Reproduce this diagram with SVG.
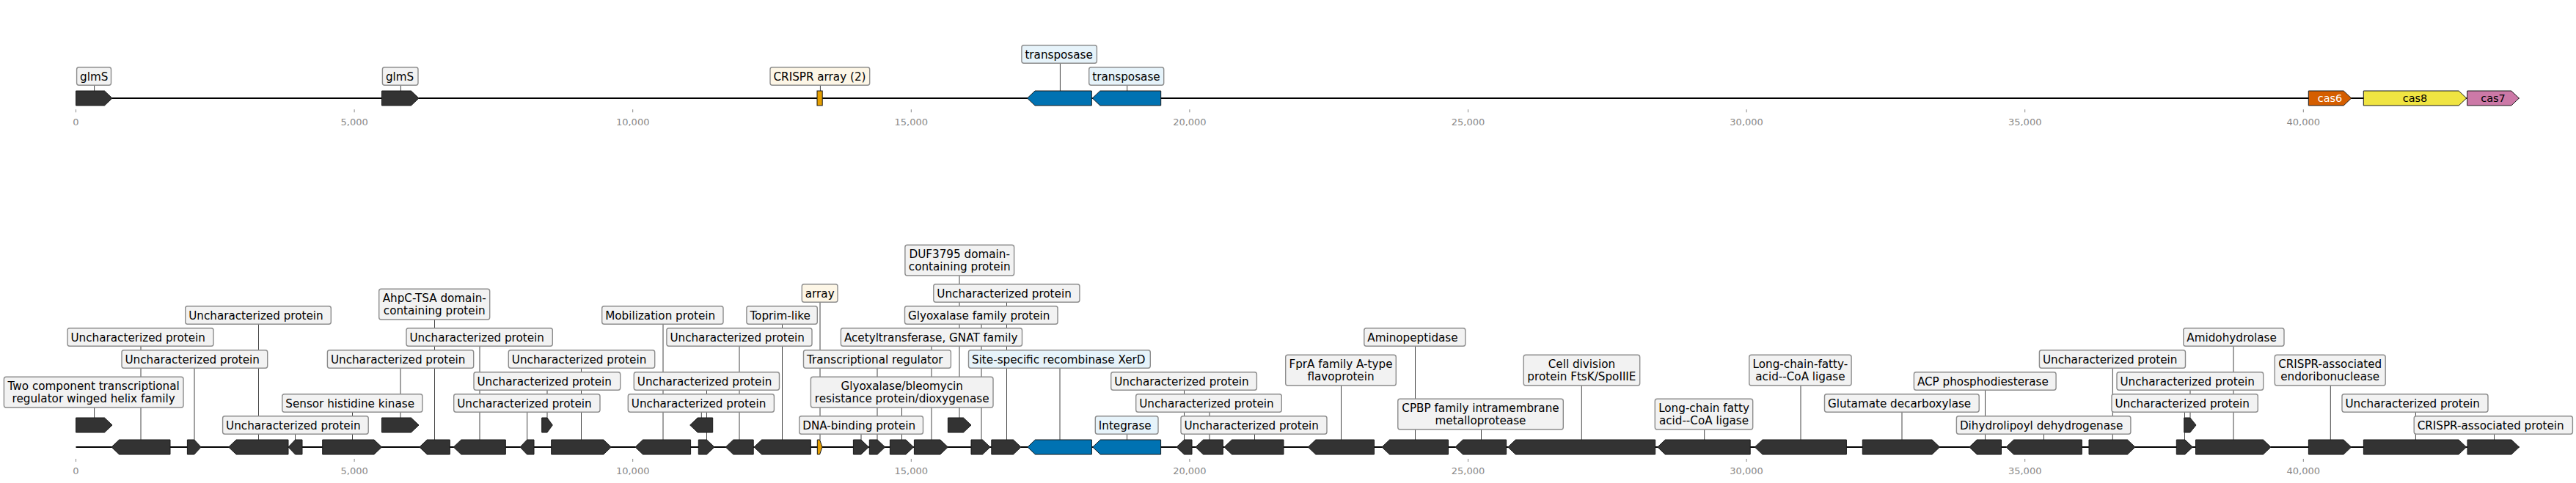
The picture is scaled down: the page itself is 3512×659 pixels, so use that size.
<svg xmlns="http://www.w3.org/2000/svg" width="3512" height="659" viewBox="0 0 3512 659">
<style>
.axis{stroke:#000;stroke-width:2}
.tick{stroke:#888;stroke-width:1}
.tl{font-family:"DejaVu Sans",sans-serif;font-size:13px;fill:#888;text-anchor:middle}
.conn line{stroke:#444;stroke-width:1}
.gene{fill:#333;stroke:#1a1a1a;stroke-width:1}
.tp{fill:#0072b2}
.arr{fill:#e69f00}
.c6{fill:#d55e00}
.c8{fill:#f0e442}
.c7{fill:#cc79a7}
.box{fill:#f2f2f2;stroke:#8c8c8c;stroke-width:1.4}
.bb{fill:#e6f3fa}
.bc{fill:#fdf6e6}
.t{font-family:"DejaVu Sans",sans-serif;font-size:15.2px;fill:#000}
.m{text-anchor:middle}
.ct{font-family:"DejaVu Sans",sans-serif;font-size:14.5px;text-anchor:middle}
</style>
<rect width="3512" height="659" fill="#fff"/>
<g id="axes">
<line class="axis" x1="103.5" y1="134" x2="3434.3" y2="134"/>
<line class="axis" x1="103.5" y1="610" x2="3434.5" y2="610"/>
<g class="tick">
<line x1="103.5" y1="149.3" x2="103.5" y2="153.3"/><line x1="483.1" y1="149.3" x2="483.1" y2="153.3"/><line x1="862.7" y1="149.3" x2="862.7" y2="153.3"/><line x1="1242.3" y1="149.3" x2="1242.3" y2="153.3"/><line x1="1621.9" y1="149.3" x2="1621.9" y2="153.3"/><line x1="2001.5" y1="149.3" x2="2001.5" y2="153.3"/><line x1="2381.1" y1="149.3" x2="2381.1" y2="153.3"/><line x1="2760.7" y1="149.3" x2="2760.7" y2="153.3"/><line x1="3140.3" y1="149.3" x2="3140.3" y2="153.3"/>
<line x1="103.5" y1="626" x2="103.5" y2="630"/><line x1="483.1" y1="626" x2="483.1" y2="630"/><line x1="862.7" y1="626" x2="862.7" y2="630"/><line x1="1242.3" y1="626" x2="1242.3" y2="630"/><line x1="1621.9" y1="626" x2="1621.9" y2="630"/><line x1="2001.5" y1="626" x2="2001.5" y2="630"/><line x1="2381.1" y1="626" x2="2381.1" y2="630"/><line x1="2760.7" y1="626" x2="2760.7" y2="630"/><line x1="3140.3" y1="626" x2="3140.3" y2="630"/>
</g>
<g class="tl">
<text x="103.5" y="170.8">0</text><text x="483.1" y="170.8">5,000</text><text x="862.7" y="170.8">10,000</text><text x="1242.3" y="170.8">15,000</text><text x="1621.9" y="170.8">20,000</text><text x="2001.5" y="170.8">25,000</text><text x="2381.1" y="170.8">30,000</text><text x="2760.7" y="170.8">35,000</text><text x="3140.3" y="170.8">40,000</text>
<text x="103.5" y="646.8">0</text><text x="483.1" y="646.8">5,000</text><text x="862.7" y="646.8">10,000</text><text x="1242.3" y="646.8">15,000</text><text x="1621.9" y="646.8">20,000</text><text x="2001.5" y="646.8">25,000</text><text x="2381.1" y="646.8">30,000</text><text x="2760.7" y="646.8">35,000</text><text x="3140.3" y="646.8">40,000</text>
</g>
</g>
<g id="connectors" class="conn">
<line x1="128.6" y1="116.3" x2="128.6" y2="124"/>
<line x1="546.4" y1="116.3" x2="546.4" y2="124"/>
<line x1="1118.4" y1="116.3" x2="1118.4" y2="124"/>
<line x1="1445.4" y1="86.3" x2="1445.4" y2="124"/>
<line x1="1536.7" y1="116.3" x2="1536.7" y2="124"/>
<line x1="128.6" y1="556" x2="128.6" y2="570"/>
<line x1="192" y1="472.3" x2="192" y2="600"/>
<line x1="265" y1="502.3" x2="265" y2="600"/>
<line x1="352.5" y1="442.3" x2="352.5" y2="600"/>
<line x1="402.5" y1="592.3" x2="402.5" y2="600"/>
<line x1="480.5" y1="562.3" x2="480.5" y2="600"/>
<line x1="546" y1="502.3" x2="546" y2="570"/>
<line x1="592.5" y1="436" x2="592.5" y2="600"/>
<line x1="654" y1="472.3" x2="654" y2="600"/>
<line x1="718.7" y1="562.3" x2="718.7" y2="600"/>
<line x1="746" y1="532.3" x2="746" y2="570"/>
<line x1="792.5" y1="502.3" x2="792.5" y2="600"/>
<line x1="904" y1="442.3" x2="904" y2="600"/>
<line x1="956.3" y1="562.3" x2="956.3" y2="570"/>
<line x1="963.5" y1="532.3" x2="963.5" y2="600"/>
<line x1="1008" y1="472.3" x2="1008" y2="600"/>
<line x1="1066.5" y1="442.3" x2="1066.5" y2="600"/>
<line x1="1118" y1="412.3" x2="1118" y2="600"/>
<line x1="1174" y1="592.3" x2="1174" y2="600"/>
<line x1="1196" y1="502.3" x2="1196" y2="600"/>
<line x1="1229.5" y1="556" x2="1229.5" y2="600"/>
<line x1="1270" y1="472.3" x2="1270" y2="600"/>
<line x1="1308" y1="376" x2="1308" y2="570"/>
<line x1="1338" y1="442.3" x2="1338" y2="600"/>
<line x1="1372.5" y1="412.3" x2="1372.5" y2="600"/>
<line x1="1445" y1="502.3" x2="1445" y2="600"/>
<line x1="1536.5" y1="592.3" x2="1536.5" y2="600"/>
<line x1="1614.5" y1="532.3" x2="1614.5" y2="600"/>
<line x1="1649" y1="562.3" x2="1649" y2="600"/>
<line x1="1710.5" y1="592.3" x2="1710.5" y2="600"/>
<line x1="1828.5" y1="526" x2="1828.5" y2="600"/>
<line x1="1929.5" y1="472.3" x2="1929.5" y2="600"/>
<line x1="2019.5" y1="585.7" x2="2019.5" y2="600"/>
<line x1="2156.3" y1="526" x2="2156.3" y2="600"/>
<line x1="2323.7" y1="585.7" x2="2323.7" y2="600"/>
<line x1="2455" y1="526" x2="2455" y2="600"/>
<line x1="2593" y1="562.3" x2="2593" y2="600"/>
<line x1="2706.5" y1="532.3" x2="2706.5" y2="600"/>
<line x1="2786.5" y1="592.3" x2="2786.5" y2="600"/>
<line x1="2880.3" y1="502.3" x2="2880.3" y2="600"/>
<line x1="2978.5" y1="562.3" x2="2978.5" y2="600"/>
<line x1="2986" y1="532.3" x2="2986" y2="570"/>
<line x1="3045" y1="472.3" x2="3045" y2="600"/>
<line x1="3177.3" y1="526" x2="3177.3" y2="600"/>
<line x1="3293.4" y1="562.3" x2="3293.4" y2="600"/>
<line x1="3400.5" y1="592.3" x2="3400.5" y2="600"/>
</g>
<g id="top-glmS-1"><path class="gene" d="M103.5,124 H142.5 L153,134 L142.5,144 H103.5 Z"/><rect class="box" x="104.6" y="91.7" width="46.9" height="24.6" rx="3"/><text class="t" x="109.1" y="109.6">glmS</text></g>
<g id="top-glmS-2"><path class="gene" d="M520.5,124 H560.5 L571,134 L560.5,144 H520.5 Z"/><rect class="box" x="521.4" y="91.7" width="48.6" height="24.6" rx="3"/><text class="t" x="525.9" y="109.6">glmS</text></g>
<g id="top-crispr-array"><rect class="gene arr" x="1114" y="124" width="7.2" height="20"/><rect class="box bc" x="1050" y="91.7" width="135.7" height="24.6" rx="3"/><text class="t" x="1054.5" y="109.6">CRISPR array (2)</text></g>
<g id="top-transposase-1"><path class="gene tp" d="M1488.3,124 H1411 L1400.5,134 L1411,144 H1488.3 Z"/><rect class="box bb" x="1392.9" y="61.7" width="102.5" height="24.6" rx="3"/><text class="t" x="1397.4" y="79.6">transposase</text></g>
<g id="top-transposase-2"><path class="gene tp" d="M1582.7,124 H1499.8 L1489.3,134 L1499.8,144 H1582.7 Z"/><rect class="box bb" x="1484.7" y="91.7" width="102" height="24.6" rx="3"/><text class="t" x="1489.2" y="109.6">transposase</text></g>
<g id="top-cas6"><path class="gene c6" d="M3147.3,124 H3195.2 L3205.7,134 L3195.2,144 H3147.3 Z"/><text class="ct" x="3176.5" y="139.2" fill="#fff">cas6</text></g>
<g id="top-cas8"><path class="gene c8" d="M3222.3,124 H3352.2 L3362.7,134 L3352.2,144 H3222.3 Z"/><text class="ct" x="3292.5" y="139.2" fill="#000">cas8</text></g>
<g id="top-cas7"><path class="gene c7" d="M3363.7,124 H3423.8 L3434.3,134 L3423.8,144 H3363.7 Z"/><text class="ct" x="3399" y="139.2" fill="#000">cas7</text></g>

<g id="n1"><path class="gene" d="M103.5,570 H142.5 L153,580 L142.5,590 H103.5 Z"/><rect class="box" x="5.4" y="514.3" width="244.6" height="41.7" rx="3"/><text class="t m" x="127.7" y="532.1">Two component transcriptional</text><text class="t m" x="127.7" y="548.8">regulator winged helix family</text></g>
<g id="n2"><path class="gene" d="M232,600 H162.5 L152,610 L162.5,620 H232 Z"/><rect class="box" x="92" y="447.7" width="199" height="24.6" rx="3"/><text class="t" x="96.5" y="465.6">Uncharacterized protein</text></g>
<g id="n3"><path class="gene" d="M255.4,600 H264.8 L274.1,610 L264.8,620 H255.4 Z"/><rect class="box" x="166" y="477.7" width="198.7" height="24.6" rx="3"/><text class="t" x="170.5" y="495.6">Uncharacterized protein</text></g>
<g id="n4"><path class="gene" d="M393,600 H322.1 L311.6,610 L322.1,620 H393 Z"/><rect class="box" x="252.7" y="417.7" width="198.6" height="24.6" rx="3"/><text class="t" x="257.2" y="435.6">Uncharacterized protein</text></g>
<g id="n5"><path class="gene" d="M412,600 H402.5 L393,610 L402.5,620 H412 Z"/><rect class="box" x="303.6" y="567.7" width="198.6" height="24.6" rx="3"/><text class="t" x="308.1" y="585.6">Uncharacterized protein</text></g>
<g id="n6"><path class="gene" d="M439.7,600 H510 L520.5,610 L510,620 H439.7 Z"/><rect class="box" x="384.8" y="537.7" width="191.1" height="24.6" rx="3"/><text class="t" x="389.3" y="555.6">Sensor histidine kinase</text></g>
<g id="n7"><path class="gene" d="M520.5,570 H560.5 L571,580 L560.5,590 H520.5 Z"/><rect class="box" x="446.4" y="477.7" width="199.3" height="24.6" rx="3"/><text class="t" x="450.9" y="495.6">Uncharacterized protein</text></g>
<g id="n8"><path class="gene" d="M613.3,600 H582.3 L571.8,610 L582.3,620 H613.3 Z"/><rect class="box" x="516.7" y="394.3" width="151" height="41.7" rx="3"/><text class="t m" x="592.2" y="412.1">AhpC-TSA domain-</text><text class="t m" x="592.2" y="428.8">containing protein</text></g>
<g id="n9"><path class="gene" d="M689.3,600 H628.8 L618.3,610 L628.8,620 H689.3 Z"/><rect class="box" x="554" y="447.7" width="199.3" height="24.6" rx="3"/><text class="t" x="558.5" y="465.6">Uncharacterized protein</text></g>
<g id="n10"><path class="gene" d="M728,600 H718.5 L709,610 L718.5,620 H728 Z"/><rect class="box" x="618.7" y="537.7" width="199.3" height="24.6" rx="3"/><text class="t" x="623.2" y="555.6">Uncharacterized protein</text></g>
<g id="n11"><path class="gene" d="M738.7,570 H746 L753.3,580 L746,590 H738.7 Z"/><rect class="box" x="646" y="507.7" width="199.7" height="24.6" rx="3"/><text class="t" x="650.5" y="525.6">Uncharacterized protein</text></g>
<g id="n12"><path class="gene" d="M751.7,600 H822.8 L833.3,610 L822.8,620 H751.7 Z"/><rect class="box" x="693.3" y="477.7" width="199.4" height="24.6" rx="3"/><text class="t" x="697.8" y="495.6">Uncharacterized protein</text></g>
<g id="n13"><path class="gene" d="M941.6,600 H876.5 L866,610 L876.5,620 H941.6 Z"/><rect class="box" x="820.7" y="417.7" width="165.3" height="24.6" rx="3"/><text class="t" x="825.2" y="435.6">Mobilization protein</text></g>
<g id="n14"><path class="gene" d="M971.7,570 H951.2 L940.7,580 L951.2,590 H971.7 Z"/><rect class="box" x="856.3" y="537.7" width="199.1" height="24.6" rx="3"/><text class="t" x="860.8" y="555.6">Uncharacterized protein</text></g>
<g id="n15"><path class="gene" d="M952.3,600 H963.5 L974,610 L963.5,620 H952.3 Z"/><rect class="box" x="864.3" y="507.7" width="198.2" height="24.6" rx="3"/><text class="t" x="868.8" y="525.6">Uncharacterized protein</text></g>
<g id="n16"><path class="gene" d="M1027.2,600 H999.8 L989.3,610 L999.8,620 H1027.2 Z"/><rect class="box" x="908.9" y="447.7" width="198.1" height="24.6" rx="3"/><text class="t" x="913.4" y="465.6">Uncharacterized protein</text></g>
<g id="n17"><path class="gene" d="M1105.4,600 H1038.5 L1028,610 L1038.5,620 H1105.4 Z"/><rect class="box" x="1017.9" y="417.7" width="96.4" height="24.6" rx="3"/><text class="t" x="1022.4" y="435.6">Toprim-like</text></g>
<g id="n18"><path class="gene arr" d="M1114.3,600 H1117.6 L1121,610 L1117.6,620 H1114.3 Z"/><rect class="box bc" x="1093.3" y="387.7" width="48.7" height="24.6" rx="3"/><text class="t" x="1097.8" y="405.6">array</text></g>
<g id="n19"><path class="gene" d="M1163.4,600 H1173.9 L1184.4,610 L1173.9,620 H1163.4 Z"/><rect class="box" x="1089.7" y="567.7" width="168.8" height="24.6" rx="3"/><text class="t" x="1094.2" y="585.6">DNA-binding protein</text></g>
<g id="n20"><path class="gene" d="M1185.3,600 H1196.2 L1206.7,610 L1196.2,620 H1185.3 Z"/><rect class="box" x="1095.5" y="477.7" width="200.9" height="24.6" rx="3"/><text class="t" x="1100" y="495.6">Transcriptional regulator</text></g>
<g id="n21"><path class="gene" d="M1213.4,600 H1235 L1245.5,610 L1235,620 H1213.4 Z"/><rect class="box" x="1105.4" y="514.3" width="248.6" height="41.7" rx="3"/><text class="t m" x="1229.7" y="532.1">Glyoxalase/bleomycin</text><text class="t m" x="1229.7" y="548.8">resistance protein/dioxygenase</text></g>
<g id="n22"><path class="gene" d="M1246.4,600 H1281.9 L1292.4,610 L1281.9,620 H1246.4 Z"/><rect class="box" x="1146.4" y="447.7" width="247.1" height="24.6" rx="3"/><text class="t" x="1150.9" y="465.6">Acetyltransferase, GNAT family</text></g>
<g id="n23"><path class="gene" d="M1292.4,570 H1313.5 L1324,580 L1313.5,590 H1292.4 Z"/><rect class="box" x="1233.9" y="334.3" width="148.7" height="41.7" rx="3"/><text class="t m" x="1308.2" y="352.1">DUF3795 domain-</text><text class="t m" x="1308.2" y="368.8">containing protein</text></g>
<g id="n24"><path class="gene" d="M1324,600 H1339.5 L1350,610 L1339.5,620 H1324 Z"/><rect class="box" x="1233.5" y="417.7" width="208.5" height="24.6" rx="3"/><text class="t" x="1238" y="435.6">Glyoxalase family protein</text></g>
<g id="n25"><path class="gene" d="M1351.8,600 H1381.5 L1392,610 L1381.5,620 H1351.8 Z"/><rect class="box" x="1272.8" y="387.7" width="199.1" height="24.6" rx="3"/><text class="t" x="1277.3" y="405.6">Uncharacterized protein</text></g>
<g id="n26"><path class="gene tp" d="M1488.4,600 H1411.4 L1400.9,610 L1411.4,620 H1488.4 Z"/><rect class="box bb" x="1320.5" y="477.7" width="247.8" height="24.6" rx="3"/><text class="t" x="1325" y="495.6">Site-specific recombinase XerD</text></g>
<g id="n27"><path class="gene tp" d="M1582.6,600 H1500.2 L1489.7,610 L1500.2,620 H1582.6 Z"/><rect class="box bb" x="1493.3" y="567.7" width="85.7" height="24.6" rx="3"/><text class="t" x="1497.8" y="585.6">Integrase</text></g>
<g id="n28"><path class="gene" d="M1625,600 H1614.5 L1604,610 L1614.5,620 H1625 Z"/><rect class="box" x="1514.7" y="507.7" width="198.7" height="24.6" rx="3"/><text class="t" x="1519.2" y="525.6">Uncharacterized protein</text></g>
<g id="n29"><path class="gene" d="M1667.3,600 H1640.5 L1630,610 L1640.5,620 H1667.3 Z"/><rect class="box" x="1548.7" y="537.7" width="198.6" height="24.6" rx="3"/><text class="t" x="1553.2" y="555.6">Uncharacterized protein</text></g>
<g id="n30"><path class="gene" d="M1750,600 H1679.5 L1669,610 L1679.5,620 H1750 Z"/><rect class="box" x="1610" y="567.7" width="199" height="24.6" rx="3"/><text class="t" x="1614.5" y="585.6">Uncharacterized protein</text></g>
<g id="n31"><path class="gene" d="M1873.5,600 H1793.8 L1783.3,610 L1793.8,620 H1873.5 Z"/><rect class="box" x="1752.7" y="484.3" width="150.6" height="41.7" rx="3"/><text class="t m" x="1828" y="502.1">FprA family A-type</text><text class="t m" x="1828" y="518.8">flavoprotein</text></g>
<g id="n32"><path class="gene" d="M1974.5,600 H1894.5 L1884,610 L1894.5,620 H1974.5 Z"/><rect class="box" x="1859.8" y="447.7" width="138" height="24.6" rx="3"/><text class="t" x="1864.3" y="465.6">Aminopeptidase</text></g>
<g id="n33"><path class="gene" d="M2053.6,600 H1994.5 L1984,610 L1994.5,620 H2053.6 Z"/><rect class="box" x="1905.8" y="544.3" width="225.5" height="41.7" rx="3"/><text class="t m" x="2018.5" y="562.1">CPBP family intramembrane</text><text class="t m" x="2018.5" y="578.8">metalloprotease</text></g>
<g id="n34"><path class="gene" d="M2256.7,600 H2066.3 L2055.8,610 L2066.3,620 H2256.7 Z"/><rect class="box" x="2077.2" y="484.3" width="158.5" height="41.7" rx="3"/><text class="t m" x="2156.4" y="502.1">Cell division</text><text class="t m" x="2156.4" y="518.8">protein FtsK/SpoIIIE</text></g>
<g id="n35"><path class="gene" d="M2386.2,600 H2270.3 L2259.8,610 L2270.3,620 H2386.2 Z"/><rect class="box" x="2256.3" y="544.3" width="133.4" height="41.7" rx="3"/><text class="t m" x="2323" y="562.1">Long-chain fatty</text><text class="t m" x="2323" y="578.8">acid--CoA ligase</text></g>
<g id="n36"><path class="gene" d="M2517.4,600 H2402.9 L2392.4,610 L2402.9,620 H2517.4 Z"/><rect class="box" x="2384.8" y="484.3" width="139.3" height="41.7" rx="3"/><text class="t m" x="2454.4" y="502.1">Long-chain-fatty-</text><text class="t m" x="2454.4" y="518.8">acid--CoA ligase</text></g>
<g id="n37"><path class="gene" d="M2539.3,600 H2634.1 L2644.6,610 L2634.1,620 H2539.3 Z"/><rect class="box" x="2487.5" y="537.7" width="210.7" height="24.6" rx="3"/><text class="t" x="2492" y="555.6">Glutamate decarboxylase</text></g>
<g id="n38"><path class="gene" d="M2728.5,600 H2695.3 L2684.8,610 L2695.3,620 H2728.5 Z"/><rect class="box" x="2609.4" y="507.7" width="193.7" height="24.6" rx="3"/><text class="t" x="2613.9" y="525.6">ACP phosphodiesterase</text></g>
<g id="n39"><path class="gene" d="M2838.3,600 H2745.5 L2735,610 L2745.5,620 H2838.3 Z"/><rect class="box" x="2667.4" y="567.7" width="237.5" height="24.6" rx="3"/><text class="t" x="2671.9" y="585.6">Dihydrolipoyl dehydrogenase</text></g>
<g id="n40"><path class="gene" d="M2848,600 H2900.5 L2911,610 L2900.5,620 H2848 Z"/><rect class="box" x="2780.4" y="477.7" width="199.1" height="24.6" rx="3"/><text class="t" x="2784.9" y="495.6">Uncharacterized protein</text></g>
<g id="n41"><path class="gene" d="M2967.3,600 H2978.9 L2989.4,610 L2978.9,620 H2967.3 Z"/><rect class="box" x="2879" y="537.7" width="199.3" height="24.6" rx="3"/><text class="t" x="2883.5" y="555.6">Uncharacterized protein</text></g>
<g id="n42"><path class="gene" d="M2977.7,570 H2985.9 L2994,580 L2985.9,590 H2977.7 Z"/><rect class="box" x="2886" y="507.7" width="199.7" height="24.6" rx="3"/><text class="t" x="2890.5" y="525.6">Uncharacterized protein</text></g>
<g id="n43"><path class="gene" d="M2993.5,600 H3085.5 L3096,610 L3085.5,620 H2993.5 Z"/><rect class="box" x="2976.8" y="447.7" width="137.2" height="24.6" rx="3"/><text class="t" x="2981.3" y="465.6">Amidohydrolase</text></g>
<g id="n44"><path class="gene" d="M3147.4,600 H3195.1 L3205.6,610 L3195.1,620 H3147.4 Z"/><rect class="box" x="3101.3" y="484.3" width="150.9" height="41.7" rx="3"/><text class="t m" x="3176.7" y="502.1">CRISPR-associated</text><text class="t m" x="3176.7" y="518.8">endoribonuclease</text></g>
<g id="n45"><path class="gene" d="M3222.4,600 H3352 L3362.5,610 L3352,620 H3222.4 Z"/><rect class="box" x="3193" y="537.7" width="199" height="24.6" rx="3"/><text class="t" x="3197.5" y="555.6">Uncharacterized protein</text></g>
<g id="n46"><path class="gene" d="M3364,600 H3424 L3434.5,610 L3424,620 H3364 Z"/><rect class="box" x="3291.2" y="567.7" width="216.2" height="24.6" rx="3"/><text class="t" x="3295.7" y="585.6">CRISPR-associated protein</text></g>
</svg>
